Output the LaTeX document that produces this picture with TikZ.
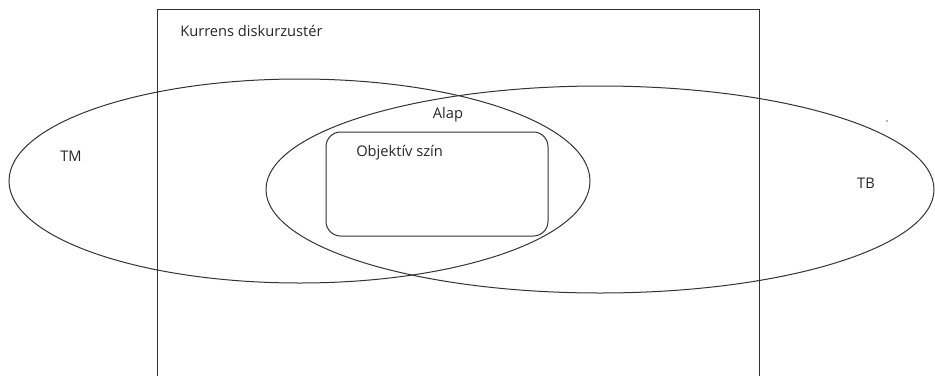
\documentclass[tikz,border=0pt]{standalone}
\usepackage{fontspec}
\setmainfont{Open Sans}
\usetikzlibrary{positioning}
\begin{document}
\begin{tikzpicture}[x=0.75pt,y=0.75pt,yscale=-1,xscale=1]
  \tikzstyle{line} = [draw=black!80,line width=0.75pt]
  \tikzstyle{label} = [inner sep=0.75pt,font=\fontsize{11}{13}\selectfont,text=black!85]
  \useasboundingbox (0,0) rectangle (935,375);
  \clip (0,0) rectangle (935,375);
  %Draw the discourse frame (open at the bottom)
  \draw [line] (157,400) -- (157,9) -- (759,9) -- (759,400);
  \node [label, anchor=west] (kurrens) at (179,31) {Kurrens diskurzustér};
  %Draw the two ellipses
  \draw [line] (299.5,181) ellipse [x radius=290.5, y radius=102];
  \draw [line] (600,189.5) ellipse [x radius=334, y radius=103.5];
  %Draw the inner box
  \draw [line, rounded corners=11pt] (326,132) rectangle (548,236);
  % Label the sets
  \node [label] (tm) at (71,156) {TM};
  \node [label] (tb) at (866,183) {TB};
  \node [label] (alap) at (448,115) {Alap};
  \node [label, anchor=west] (objektiv) at (355,153) {Objektív szín};
  % Draw the stray point
  \fill [black!60] (887,121) circle (0.6pt);
\end{tikzpicture}
\end{document}
